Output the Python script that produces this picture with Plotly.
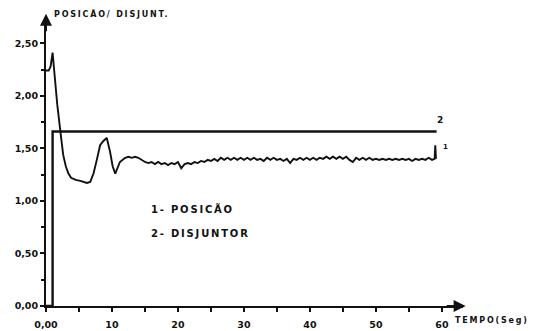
import plotly.graph_objects as go

# Posição (curve 1): time in seconds and position value
pos_t = [0, 0.4, 0.7, 1.0, 1.3, 1.7, 2.2, 2.6, 3.0, 3.4, 3.8, 4.5, 5.2, 5.8, 6.2, 6.7, 7.2, 7.7,
         8.2, 8.7, 9.2, 9.7, 10.1, 10.5, 11.2, 12.0,
         12.5, 13, 13.5, 14, 14.5, 15, 15.5, 16, 16.5, 17, 17.5, 18, 18.5, 19, 19.5, 20,
         20.5, 21, 21.5, 22, 22.5, 23, 23.5, 24, 24.5, 25, 25.5, 26, 26.5, 27, 27.5, 28,
         28.5, 29, 29.5, 30, 30.5, 31, 31.5, 32, 32.5, 33, 33.5, 34, 34.5, 35, 35.5, 36,
         36.5, 37, 37.5, 38, 38.5, 39, 39.5, 40, 40.5, 41, 41.5, 42, 42.5, 43, 43.5, 44,
         44.5, 45, 45.5, 46, 46.5, 47, 47.5, 48, 48.5, 49, 49.5, 50, 50.5, 51, 51.5, 52,
         52.5, 53, 53.5, 54, 54.5, 55, 55.5, 56, 56.5, 57, 57.5, 58, 58.5, 58.9, 59.0, 59.1]
pos_v = [2.24, 2.24, 2.28, 2.41, 2.20, 1.92, 1.65, 1.44, 1.33, 1.26, 1.22, 1.20, 1.19, 1.18, 1.17, 1.18, 1.26, 1.39,
         1.53, 1.57, 1.60, 1.47, 1.33, 1.26, 1.37, 1.41,
         1.42, 1.41, 1.42, 1.41, 1.39, 1.37, 1.36, 1.37, 1.35, 1.37, 1.35, 1.36, 1.34, 1.36, 1.35, 1.37,
         1.31, 1.35, 1.36, 1.35, 1.37, 1.36, 1.38, 1.37, 1.39, 1.38, 1.40, 1.38, 1.41, 1.39, 1.41, 1.39,
         1.41, 1.39, 1.41, 1.39, 1.41, 1.39, 1.41, 1.39, 1.40, 1.38, 1.41, 1.39, 1.41, 1.39, 1.40, 1.38,
         1.40, 1.36, 1.40, 1.39, 1.41, 1.39, 1.41, 1.39, 1.41, 1.39, 1.41, 1.40, 1.42, 1.40, 1.42, 1.40,
         1.42, 1.40, 1.42, 1.39, 1.37, 1.41, 1.39, 1.41, 1.39, 1.41, 1.39, 1.40, 1.39, 1.40, 1.39, 1.40,
         1.39, 1.40, 1.39, 1.40, 1.39, 1.40, 1.38, 1.40, 1.39, 1.40, 1.39, 1.41, 1.39, 1.40, 1.53, 1.40]

# Disjuntor (curve 2): breaker state step
dis_t = [0, 1.0, 1.0, 59.2]
dis_v = [0, 0, 1.66, 1.66]

# Axis ticks
x_ticks = [0, 10, 20, 30, 40, 50, 60]
x_labels = ["0,00", "10", "20", "30", "40", "50", "60"]
y_ticks = [0, 0.5, 1.0, 1.5, 2.0, 2.5]
y_labels = ["0,00", "0,50", "1,00", "1,50", "2,00", "2,50"]

INK = "#111111"
FONT = "DejaVu Sans"

fig = go.Figure()
fig.add_trace(go.Scatter(x=dis_t, y=dis_v, mode="lines",
                         line=dict(color=INK, width=2.4), cliponaxis=False))
fig.add_trace(go.Scatter(x=pos_t, y=pos_v, mode="lines",
                         line=dict(color=INK, width=1.9), cliponaxis=False))

axis_font = dict(family=FONT, size=9.5, color=INK, weight="bold")

fig.update_layout(
    width=536, height=331,
    margin=dict(l=46, r=73, t=18, b=25),
    paper_bgcolor="white", plot_bgcolor="white",
    showlegend=False,
    xaxis=dict(range=[0, 63.2], showgrid=False, zeroline=False, automargin=False,
               showline=True, linecolor=INK, linewidth=2,
               tickvals=x_ticks, ticktext=x_labels, ticks="outside",
               ticklen=4, tickwidth=1.5, tickcolor=INK, tickfont=axis_font,
               ticklabelstandoff=5,
               minor=dict(dtick=5, tick0=0, ticks="outside", ticklen=4,
                          tickwidth=1.5, tickcolor=INK, showgrid=False)),
    yaxis=dict(range=[0, 2.74], showgrid=False, zeroline=False, automargin=False,
               showline=True, linecolor=INK, linewidth=2,
               tickvals=y_ticks, ticktext=y_labels, ticks="outside",
               ticklen=4, tickwidth=1.5, tickcolor=INK, tickfont=axis_font,
               minor=dict(dtick=0.25, tick0=0, ticks="outside", ticklen=3,
                          tickwidth=1.5, tickcolor=INK, showgrid=False)),
)

# Arrow tips on both axes
fig.add_annotation(x=63.6, y=0, ax=60.5, ay=0, xref="x", yref="y", axref="x", ayref="y",
                   text="", showarrow=True, arrowhead=2, arrowsize=1.2,
                   arrowwidth=2, arrowcolor=INK)
fig.add_annotation(x=0, y=2.78, ax=0, ay=2.6, xref="x", yref="y", axref="x", ayref="y",
                   text="", showarrow=True, arrowhead=2, arrowsize=1.2,
                   arrowwidth=2, arrowcolor=INK)

def label(text, x, y, size=9, ref="x"):
    fig.add_annotation(x=x, y=y, xref=ref, yref="y" if ref == "x" else "paper",
                       text=text, showarrow=False, xanchor="left", yanchor="middle",
                       align="left",
                       font=dict(family=FONT, size=size, color=INK, weight="bold"))

# Axis titles sit outside the data range, so they use paper coordinates
label("POSICÃO/ DISJUNT.", 0.014, 1.014, size=8, ref="paper")
label("TEMPO(Seg)", 0.976, -0.052, size=8, ref="paper")
label("1- POSICÃO", 15.6, 0.92, size=10)
label("2- DISJUNTOR", 15.6, 0.69, size=10)
label("2", 59.0, 1.77, size=9)
label("1", 59.8, 1.51, size=7)

fig.write_html(
    "out.html",
    post_script="document.querySelectorAll('.annotation-text').forEach(function(e){e.style.letterSpacing='1.8px';});",
)
